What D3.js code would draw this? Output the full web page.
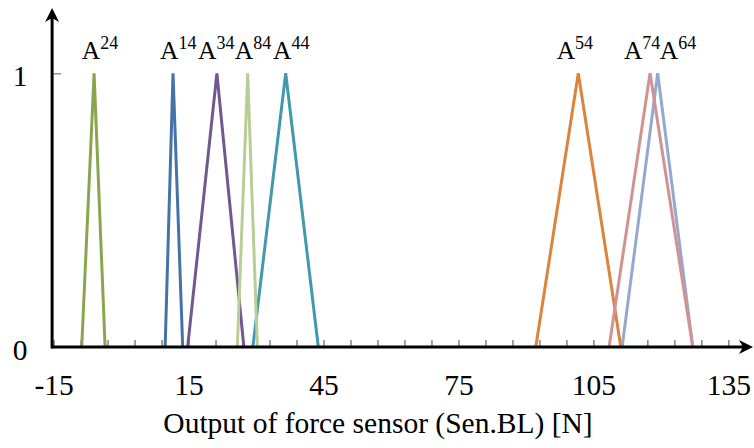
<!DOCTYPE html>
<html>
<head>
<meta charset="utf-8">
<script src="https://cdn.jsdelivr.net/npm/d3@7/dist/d3.min.js"></script>
<style>
  html, body { margin: 0; padding: 0; background: #fff; }
  svg { display: block; }
  svg text { font-family: "Liberation Serif", "Times New Roman", Times, serif; fill: #000; }
</style>
</head>
<body>
<svg id="chart" width="754" height="448"></svg>
<script>
// Triangular membership functions of the force sensor output (Sen.BL)
const setNames   = ["A", "A", "A", "A", "A", "A", "A", "A"];
const setIndex   = ["14", "24", "34", "44", "54", "64", "74", "84"];
const leftFoot   = [9.8, -8.75, 14.8, 29.3, 92.2, 111.4, 108.5, 25.85];
const peakValue  = [11.55, -6.0, 21.3, 36.6, 101.65, 119.3, 117.6, 28.15];
const rightFoot  = [13.7, -3.55, 27.3, 43.85, 111.1, 127.1, 127.1, 30.3];
const labelStart = [8.65, -8.75, 17.1, 33.8, 96.85, 119.75, 111.8, 25.3];
const seriesColors = ["#4572A7", "#89A54E", "#71588F", "#4198AF", "#DB843D", "#93A9CF", "#D19392", "#B9CD96"];

const xTickLabels = [-15, 15, 45, 75, 105, 135];
const xMinorTicks = d3.range(-15, 136, 6);
const yTickLabels = [0, 1];

const FONT = '"Liberation Serif", "Times New Roman", Times, serif';
const svg = d3.select("#chart");
const x = d3.scaleLinear().domain([-15, 135]).range([53.6, 728.3]);
const y = d3.scaleLinear().domain([0, 1]).range([347, 73.3]);

// minor ticks pointing up from the x axis
const minorAxis = d3.axisBottom(x).tickValues(xMinorTicks).tickSize(-7).tickFormat("");
const gMinor = svg.append("g").attr("transform", `translate(0,${y(0)})`).call(minorAxis);
gMinor.select(".domain").remove();
gMinor.selectAll("line").attr("stroke", "#8a8a8a").attr("stroke-width", 1.6);

// x tick labels (plain hyphen for the minus sign)
const labelAxis = d3.axisBottom(x).tickValues(xTickLabels).tickSize(0).tickPadding(0).tickFormat(d => String(d));
const gLab = svg.append("g").attr("transform", `translate(0,${y(0)})`).call(labelAxis);
gLab.attr("font-family", FONT).attr("font-size", 29.5);
gLab.select(".domain").remove();
gLab.selectAll("text")
  .attr("y", 48).attr("dy", null)
  .attr("fill", "#000");

// y axis: tick at 1, labels at 0 and 1
const yAxis = d3.axisRight(y).tickValues([1]).tickSize(9).tickFormat("");
const gY = svg.append("g").attr("transform", `translate(${x(-15) - 1.5},0)`).call(yAxis);
gY.select(".domain").remove();
gY.selectAll("line").attr("stroke", "#8a8a8a").attr("stroke-width", 1.4);

svg.append("g").attr("font-family", FONT).attr("font-size", 29.5)
  .selectAll("text").data(yTickLabels).join("text")
  .attr("x", 20).attr("y", d => y(d) + 12.5)
  .attr("text-anchor", "middle")
  .text(d => d);

// membership triangles
const series = setIndex.map((s, i) => ({
  pts: [[leftFoot[i], 0], [peakValue[i], 1], [rightFoot[i], 0]],
  color: seriesColors[i]
}));
const line = d3.line().x(d => x(d[0])).y(d => y(d[1]));
svg.append("g").selectAll("path").data(series).join("path")
  .attr("d", d => line(d.pts))
  .attr("fill", "none")
  .attr("stroke", d => d.color)
  .attr("stroke-width", 3)
  .attr("stroke-linejoin", "miter");

// set labels A^nn
const lbl = svg.append("g").attr("font-family", FONT)
  .selectAll("text").data(setIndex).join("text")
  .attr("x", (d, i) => x(labelStart[i]))
  .attr("y", 59)
  .attr("font-size", 25.5);
lbl.append("tspan").text((d, i) => setNames[i]);
lbl.append("tspan").attr("dy", -10).attr("font-size", 18).text(d => d);

// axis lines with arrow heads
const x0 = x(-15) - 1.5, yb = y(0);
svg.append("line").attr("x1", x0).attr("x2", 748).attr("y1", yb).attr("y2", yb)
  .attr("stroke", "#000").attr("stroke-width", 3);
svg.append("line").attr("x1", x0).attr("x2", x0).attr("y1", yb + 1.5).attr("y2", 14)
  .attr("stroke", "#000").attr("stroke-width", 3);
svg.append("path")
  .attr("d", `M753,${yb} L739,${yb - 7} L743,${yb} L739,${yb + 7} Z`)
  .attr("fill", "#000");
svg.append("path")
  .attr("d", `M${x0},8 L${x0 - 7},22 L${x0},18 L${x0 + 7},22 Z`)
  .attr("fill", "#000");

// axis title
svg.append("text")
  .attr("x", 378).attr("y", 433)
  .attr("text-anchor", "middle")
  .attr("font-family", FONT)
  .attr("font-size", 29.5)
  .text("Output of force sensor (Sen.BL) [N]");
</script>
</body>
</html>
